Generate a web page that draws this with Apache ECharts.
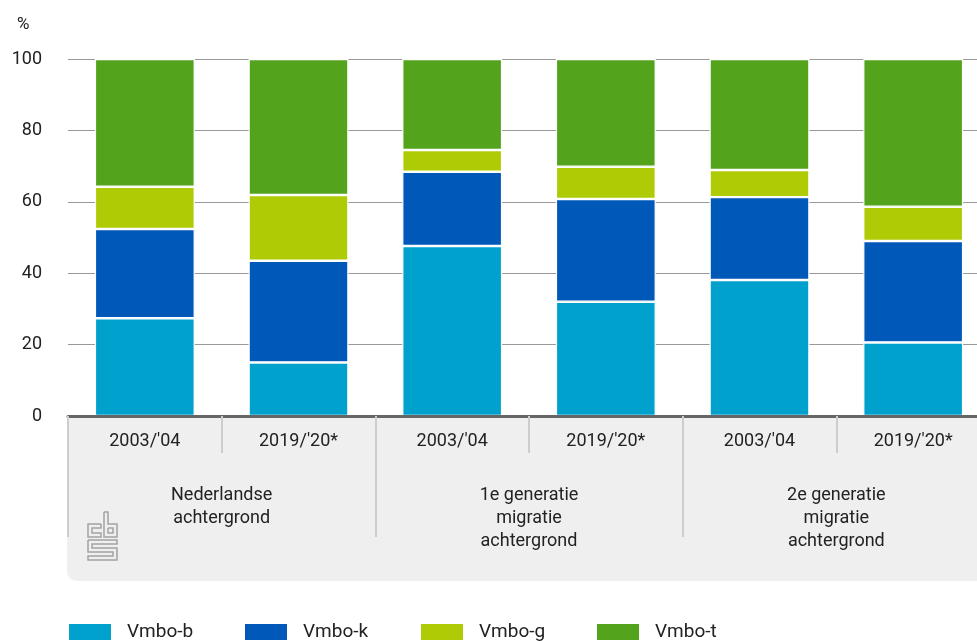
<!DOCTYPE html>
<html style="height: 100%">
<head>
<meta charset="utf-8">
<title>Vmbo leerweg naar herkomst</title>
<script src="https://cdn.jsdelivr.net/npm/echarts@6/dist/echarts.min.js"></script>
</head>
<body style="height: 100%; margin: 0; background: #fff">
<div id="container" style="width: 977px; height: 641px"></div>
<script type="text/javascript">
// data
var years = ["2003/'04", "2019/'20*", "2003/'04", "2019/'20*", "2003/'04", "2019/'20*"];
var groups = ["Nederlandse\nachtergrond", "1e generatie\nmigratie\nachtergrond", "2e generatie\nmigratie\nachtergrond"];
var seriesNames = ["Vmbo-b", "Vmbo-k", "Vmbo-g", "Vmbo-t"];
var vmboB = [27.4, 15.0, 47.6, 32.0, 38.1, 20.6];
var vmboK = [25.0, 28.5, 20.8, 28.8, 23.2, 28.4];
var vmboG = [11.8, 18.4, 6.1, 9.0, 7.6, 9.6];
var vmboT = [35.8, 38.1, 25.5, 30.2, 31.1, 41.4];
var yTicks = [0, 20, 40, 60, 80, 100];

var colors = ['#00a1cd', '#0058b8', '#afcb05', '#53a31d'];
var font = 'Roboto, "Noto Sans", sans-serif';

var myChart = echarts.init(document.getElementById('container'));

function bar(name, data) {
    return {
        name: name,
        type: 'bar',
        stack: 'total',
        barCategoryGap: '35%',
        data: data,
        itemStyle: { borderColor: '#fff', borderWidth: 1.2 },
        emphasis: { disabled: true }
    };
}

// one legend per item so that they sit on a fixed 176px pitch
function legendItem(i) {
    return {
        left: 67 + i * 176,
        top: 622,
        padding: 0,
        icon: 'rect',
        itemWidth: 44,
        itemHeight: 18,
        selectedMode: false,
        data: [seriesNames[i]],
        textStyle: { fontSize: 19, color: '#222', padding: [0, 0, 0, 10], fontFamily: font }
    };
}

// cbs logo outline, drawn in grey
var lx = 88, ly = 512;
function pts(list) {
    return list.map(function (p) { return [lx + p[0], ly + p[1]]; });
}
var logoStyle = { stroke: '#a3a3a3', lineWidth: 1.5, fill: null };

var option = {
    backgroundColor: '#fff',
    animation: false,
    color: colors,
    textStyle: { fontFamily: font },
    title: {
        text: '%',
        left: 12,
        top: 11,
        textStyle: { fontSize: 17, fontWeight: 'normal', color: '#222', fontFamily: font }
    },
    legend: [legendItem(0), legendItem(1), legendItem(2), legendItem(3)],
    graphic: [
        {
            type: 'rect',
            z: -10,
            shape: { x: 67, y: 417, width: 940, height: 164, r: [0, 0, 0, 10] },
            style: { fill: '#efefef' }
        },
        { type: 'polyline', z: 10, shape: { points: pts([[13, 12], [0, 12], [0, 25], [13, 25], [13, 21], [4, 21], [4, 16], [13, 16], [13, 12]]) }, style: logoStyle },
        { type: 'polyline', z: 10, shape: { points: pts([[16, 0], [16, 25], [29, 25], [29, 12], [20, 12], [20, 0], [16, 0]]) }, style: logoStyle },
        { type: 'polyline', z: 10, shape: { points: pts([[20, 16], [25, 16], [25, 21], [20, 21], [20, 16]]) }, style: logoStyle },
        { type: 'polyline', z: 10, shape: { points: pts([[0, 28], [29, 28], [29, 32], [4, 32], [4, 36], [29, 36], [29, 48], [0, 48], [0, 44], [25, 44], [25, 40], [0, 40], [0, 28]]) }, style: logoStyle }
    ],
    grid: { left: 68, width: 922, top: 59, height: 357, outerBoundsMode: 'none', containLabel: false },
    xAxis: [
        {
            type: 'category',
            data: years,
            position: 'bottom',
            axisLine: { show: true, lineStyle: { color: '#666', width: 3 } },
            axisTick: { show: true, length: 37, interval: 0, lineStyle: { color: '#cdcdcd', width: 2 } },
            axisLabel: { interval: 0, margin: 14, fontSize: 18, lineHeight: 23, color: '#222' },
            z: 3
        },
        {
            type: 'category',
            data: groups,
            position: 'bottom',
            axisLine: { show: false },
            axisTick: { show: true, length: 121, interval: 0, lineStyle: { color: '#cdcdcd', width: 2 } },
            axisLabel: { interval: 0, margin: 68, fontSize: 18, lineHeight: 23, color: '#222' }
        }
    ],
    yAxis: {
        type: 'value',
        min: yTicks[0],
        max: yTicks[yTicks.length - 1],
        interval: 20,
        axisLine: { show: false },
        axisTick: { show: false },
        axisLabel: { margin: 26, fontSize: 18, color: '#222' },
        splitLine: { lineStyle: { color: '#999', width: 1 } }
    },
    series: [
        bar(seriesNames[0], vmboB),
        bar(seriesNames[1], vmboK),
        bar(seriesNames[2], vmboG),
        bar(seriesNames[3], vmboT)
    ]
};

myChart.setOption(option, true);
</script>
</body>
</html>
